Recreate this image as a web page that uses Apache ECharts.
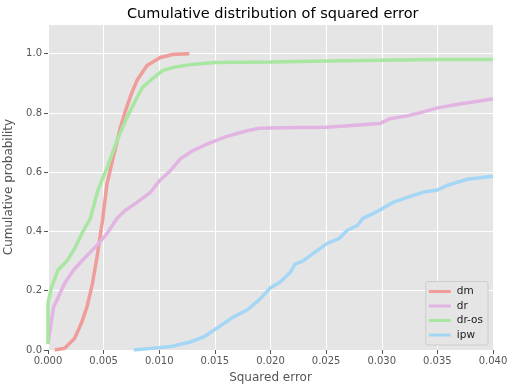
<!DOCTYPE html>
<html><head><meta charset="utf-8">
<script src="https://cdn.jsdelivr.net/npm/echarts@6/dist/echarts.min.js"></script>
<style>html,body{margin:0;padding:0;background:#fff}#c{width:514px;height:391px}</style>
</head><body><div id="c"></div>
<script>
const seriesNames = ['dm', 'dr', 'dr-os', 'ipw'];
const xTicks = [0, 0.005, 0.01, 0.015, 0.02, 0.025, 0.03, 0.035, 0.04];
const yTicks = [0, 0.2, 0.4, 0.6, 0.8, 1.0];
const dmX = [0.0006,0.0015,0.0024,0.0030,0.0035,0.0040,0.0044,0.0049,0.0053,0.0058,0.0065,0.0069,0.0075,0.0080,0.0089,0.0101,0.0112,0.0127];
const dmY = [0.0,0.006,0.04,0.09,0.145,0.225,0.313,0.437,0.56,0.64,0.75,0.80,0.865,0.91,0.96,0.987,0.997,1.0];
const drX = [0,0.0005,0.0008,0.0015,0.0023,0.0031,0.0044,0.0053,0.0062,0.0069,0.0080,0.0092,0.0100,0.0110,0.0119,0.0129,0.0143,0.0160,0.0179,0.0190,0.0210,0.0250,0.0270,0.0298,0.0307,0.0323,0.0334,0.0350,0.0370,0.0388,0.0400];
const drY = [0.02,0.145,0.168,0.225,0.27,0.303,0.353,0.393,0.444,0.47,0.498,0.532,0.57,0.605,0.645,0.67,0.695,0.72,0.74,0.748,0.75,0.752,0.757,0.764,0.78,0.79,0.80,0.817,0.83,0.84,0.848];
const drosX = [0,0,0.0003,0.0009,0.0017,0.0024,0.0031,0.0038,0.0045,0.0051,0.0053,0.0062,0.0071,0.0080,0.0085,0.0094,0.0103,0.0112,0.0128,0.0137,0.0150,0.0200,0.0250,0.0300,0.0350,0.0400];
const drosY = [0.02,0.16,0.21,0.27,0.30,0.343,0.397,0.444,0.54,0.596,0.613,0.707,0.785,0.852,0.886,0.916,0.943,0.953,0.963,0.966,0.97,0.972,0.975,0.978,0.98,0.98];
const ipwX = [0.0077,0.0100,0.0112,0.0128,0.0140,0.0152,0.0166,0.0179,0.0190,0.0200,0.0209,0.0218,0.0222,0.0229,0.0240,0.0251,0.0262,0.0269,0.0278,0.0283,0.0292,0.0301,0.0310,0.0323,0.0337,0.0350,0.0359,0.0377,0.0400];
const ipwY = [0.0,0.008,0.013,0.027,0.044,0.074,0.11,0.135,0.17,0.21,0.23,0.263,0.29,0.30,0.33,0.36,0.377,0.404,0.42,0.444,0.46,0.478,0.498,0.515,0.532,0.54,0.556,0.576,0.586];
const colors = ['#ee9d9a', '#e2b4e2', '#a9e6a2', '#a4d6f5'];

const pairs = (xs, ys) => xs.map((x, i) => [x, ys[i]]);
const allData = [pairs(dmX, dmY), pairs(drX, drY), pairs(drosX, drosY), pairs(ipwX, ipwY)];

const chart = echarts.init(document.getElementById('c'), null, {renderer: 'canvas'});
chart.setOption({
  animation: false,
  backgroundColor: '#ffffff',
  color: colors,
  title: {
    text: 'Cumulative distribution of squared error',
    left: 122, top: 2,
    textStyle: {fontFamily: 'DejaVu Sans', fontSize: 14.5, fontWeight: 'normal', color: '#000'}
  },
  grid: {left: 48, right: 21, top: 24, bottom: 41, show: true, backgroundColor: '#e5e5e5', borderWidth: 0,
    containLabel: false, outerBoundsMode: 'none'},
  legend: {
    orient: 'vertical', right: 26, bottom: 46,
    data: seriesNames.map(n => ({name: n, icon: 'rect'})),
    itemWidth: 22, itemHeight: 3, itemGap: 2.5,
    backgroundColor: '#e5e5e5', borderColor: '#cccccc', borderWidth: 1, borderRadius: 2,
    padding: [4, 5, 4, 3],
    textStyle: {fontFamily: 'DejaVu Sans', fontSize: 10.5, lineHeight: 12, color: '#222', padding: [0, 0, 0, 1]}
  },
  xAxis: {
    type: 'value', min: 0, max: 0.04, interval: 0.005,
    name: 'Squared error', nameLocation: 'middle', nameGap: 22,
    nameTextStyle: {fontFamily: 'DejaVu Sans', fontSize: 12, color: '#555'},
    axisLine: {show: false},
    axisTick: {show: true, length: 4, lineStyle: {color: '#555'}},
    axisLabel: {fontFamily: 'DejaVu Sans', fontSize: 10, color: '#555', margin: 6,
      formatter: v => (xTicks.some(t => Math.abs(t - v) < 1e-9) ? v.toFixed(3) : '')},
    splitLine: {show: true, lineStyle: {color: '#ffffff', width: 1}}
  },
  yAxis: {
    type: 'value', min: 0, max: 1.1, interval: 0.2,
    name: 'Cumulative probability', nameLocation: 'middle', nameGap: 26, nameRotate: 90,
    nameTextStyle: {fontFamily: 'DejaVu Sans', fontSize: 12, color: '#555'},
    axisLine: {show: false},
    axisTick: {show: true, length: 4, lineStyle: {color: '#555'}},
    axisLabel: {fontFamily: 'DejaVu Sans', fontSize: 10, color: '#555', margin: 6, showMaxLabel: false,
      formatter: v => (yTicks.some(t => Math.abs(t - v) < 1e-9) ? v.toFixed(1) : '')},
    splitLine: {show: true, lineStyle: {color: '#ffffff', width: 1}}
  },
  series: seriesNames.map((n, i) => ({
    name: n, type: 'line', data: allData[i], showSymbol: false, symbol: 'none',
    lineStyle: {width: 3.5, color: colors[i]}, itemStyle: {color: colors[i]}, clip: true, z: 2 + i
  }))
});
</script></body></html>
